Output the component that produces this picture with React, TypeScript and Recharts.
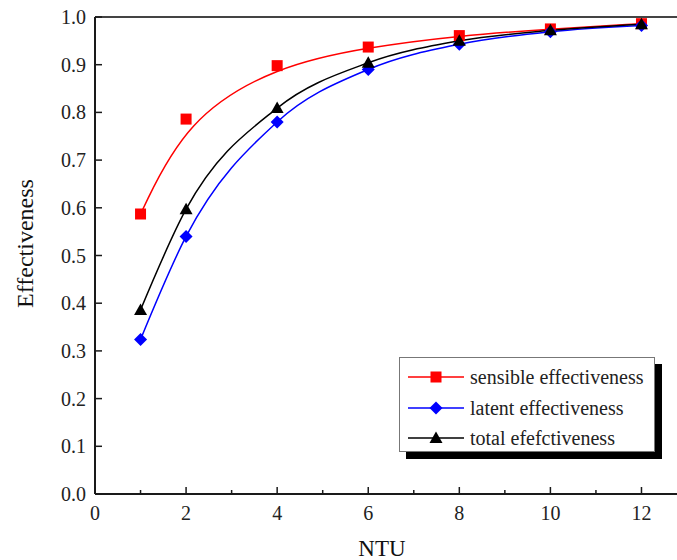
import React from 'react';
import { LineChart, Line, XAxis, YAxis, ReferenceLine, Legend } from 'recharts';

// NTU values and the three effectiveness series
const ntu = [1, 2, 4, 6, 8, 10, 12];
const sensible = [0.587, 0.786, 0.898, 0.937, 0.961, 0.975, 0.986];
const latent = [0.324, 0.54, 0.78, 0.89, 0.943, 0.969, 0.982];
const total = [0.386, 0.597, 0.809, 0.904, 0.95, 0.972, 0.985];

const xTicks = [0, 1, 2, 3, 4, 5, 6, 7, 8, 9, 10, 11, 12];
const yTicks = [0, 0.1, 0.2, 0.3, 0.4, 0.5, 0.6, 0.7, 0.8, 0.9, 1.0];

const FONT = "'Liberation Serif', 'Times New Roman', serif";
const AXIS = '#1a1a1a';

type Shape = 'square' | 'diamond' | 'triangle';

const series: { key: string; name: string; color: string; shape: Shape; curve: 'basis' | 'monotone' }[] = [
  { key: 'sensible', name: 'sensible effectiveness', color: '#ff0000', shape: 'square', curve: 'basis' },
  { key: 'latent', name: 'latent effectiveness', color: '#0000ff', shape: 'diamond', curve: 'monotone' },
  { key: 'total', name: 'total efefctiveness', color: '#000000', shape: 'triangle', curve: 'monotone' },
];

const data = ntu.map((x, i) => ({
  ntu: x,
  sensible: sensible[i],
  latent: latent[i],
  total: total[i],
}));

const Marker = ({ cx, cy, shape, color }: { cx: number; cy: number; shape: Shape; color: string }) => {
  if (cx == null || cy == null) return null;
  if (shape === 'square') {
    return <rect x={cx - 5.5} y={cy - 5.5} width={11} height={11} fill={color} />;
  }
  if (shape === 'diamond') {
    return <path d={`M${cx},${cy - 6.5}L${cx + 6.5},${cy}L${cx},${cy + 6.5}L${cx - 6.5},${cy}Z`} fill={color} />;
  }
  return <path d={`M${cx},${cy - 6.5}L${cx + 6.5},${cy + 5}L${cx - 6.5},${cy + 5}Z`} fill={color} />;
};

// inward tick marks, minor ticks on odd NTU values
const XTick = (props: any) => {
  const { x, y, payload } = props;
  const major = payload.value % 2 === 0;
  return (
    <g>
      <line x1={x} x2={x} y1={y} y2={y - (major ? 7 : 4)} stroke={AXIS} strokeWidth={1.5} />
      {major && (
        <text x={x} y={y + 26} textAnchor="middle" fontFamily={FONT} fontSize={20} fill="#222">
          {payload.value}
        </text>
      )}
    </g>
  );
};

const YTick = (props: any) => {
  const { x, y, payload } = props;
  return (
    <g>
      <line x1={x} x2={x + 7} y1={y} y2={y} stroke={AXIS} strokeWidth={1.5} />
      <text x={x - 9} y={y + 7} textAnchor="end" fontFamily={FONT} fontSize={20} fill="#222">
        {Number(payload.value).toFixed(1)}
      </text>
    </g>
  );
};

const YTitle = ({ viewBox }: any) => {
  const cx = 25;
  const cy = viewBox.y + viewBox.height / 2 - 12;
  return (
    <text
      x={cx}
      y={cy}
      transform={`rotate(-90, ${cx}, ${cy})`}
      textAnchor="middle"
      dominantBaseline="central"
      fontFamily={FONT}
      fontSize={24}
      fill="#111"
    >
      Effectiveness
    </text>
  );
};

const XTitle = ({ viewBox }: any) => (
  <text x={viewBox.x + viewBox.width / 2 - 4} y={556} textAnchor="middle" fontFamily={FONT} fontSize={23} fill="#111">
    NTU
  </text>
);

// legend rows follow the series order, not the payload order
const LegendBox = ({ payload }: any) => {
  const entries = series
    .map((s) => ({ s, entry: (payload || []).find((p: any) => p.dataKey === s.key) }))
    .filter((d) => d.entry);
  return (
    <div
      style={{
        width: 256,
        height: 95,
        boxSizing: 'border-box',
        border: '1px solid #777',
        background: '#fff',
        boxShadow: '7px 7px 0 #000',
        padding: '4px 0 0 8px',
      }}
    >
      {entries.map(({ s, entry }) => (
        <div key={s.key} style={{ display: 'flex', alignItems: 'center', height: 30.5 }}>
          <svg width={56} height={16} style={{ flex: 'none' }}>
            <line x1={0} x2={56} y1={8} y2={8} stroke={s.color} strokeWidth={1.5} />
            <Marker cx={28} cy={8} shape={s.shape} color={s.color} />
          </svg>
          <span style={{ marginLeft: 6, lineHeight: '20px', fontFamily: FONT, fontSize: 20, color: '#222' }}>
            {entry.value}
          </span>
        </div>
      ))}
    </div>
  );
};

export default function App() {
  return (
    <div style={{ position: 'absolute', left: 0, top: 0, background: '#fff' }}>
      <LineChart width={677} height={560} data={data} margin={{ top: 17, right: 0, bottom: 0, left: 0 }}>
        <XAxis
          type="number"
          dataKey="ntu"
          domain={[0, 12.78]}
          ticks={xTicks}
          interval={0}
          height={66}
          tickSize={0}
          tickMargin={0}
          tickLine={false}
          tick={<XTick />}
          axisLine={{ stroke: AXIS, strokeWidth: 2 }}
          label={<XTitle />}
        />
        <YAxis
          type="number"
          domain={[0, 1]}
          ticks={yTicks}
          interval={0}
          width={95}
          tickSize={0}
          tickMargin={0}
          tickLine={false}
          tick={<YTick />}
          axisLine={{ stroke: AXIS, strokeWidth: 2 }}
          label={<YTitle />}
        />
        <ReferenceLine y={1} stroke="#444" strokeWidth={2} />
        {series.map((s) => (
          <Line
            key={s.key}
            type={s.curve}
            dataKey={s.key}
            name={s.name}
            stroke={s.color}
            strokeWidth={1.5}
            isAnimationActive={false}
            activeDot={false}
            dot={(p: any) => <Marker key={`${s.key}-${p.index}`} cx={p.cx} cy={p.cy} shape={s.shape} color={s.color} />}
          />
        ))}
        <Legend
          layout="vertical"
          align="center"
          verticalAlign="middle"
          content={<LegendBox />}
          wrapperStyle={{ left: 399, top: 357, width: 256 }}
        />
      </LineChart>
    </div>
  );
}
